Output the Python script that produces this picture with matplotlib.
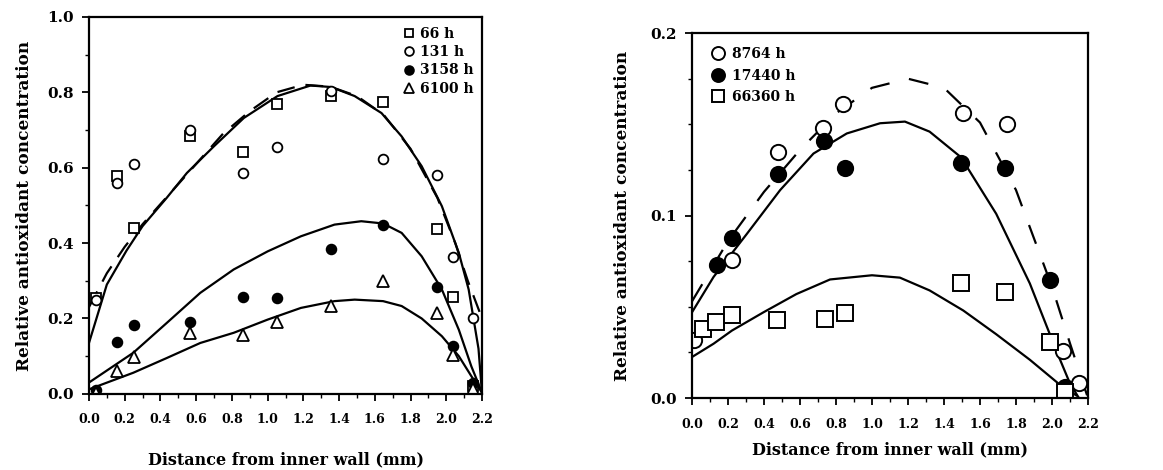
import matplotlib
matplotlib.use("Agg")
import matplotlib.pyplot as plt
from matplotlib.ticker import MultipleLocator

plt.rcParams['font.family'] = ['DejaVu Serif', 'Liberation Serif']
plt.rcParams['font.weight'] = 'bold'

# ---------------- Left panel data ----------------
x_left = [0.04, 0.155, 0.25, 0.567, 0.86, 1.055, 1.355, 1.646, 1.947, 2.04, 2.15]
y_66h = [0.255, 0.577, 0.44, 0.683, 0.642, 0.77, 0.79, 0.775, 0.438, 0.256, 0.02]
y_131h = [0.25, 0.56, 0.61, 0.70, 0.585, 0.655, 0.803, 0.623, 0.58, 0.363, 0.20]
y_3158h = [0.01, 0.138, 0.184, 0.19, 0.256, 0.253, 0.383, 0.449, 0.284, 0.126, 0.03]
y_6100h = [0.003, 0.06, 0.097, 0.162, 0.157, 0.19, 0.232, 0.30, 0.215, 0.104, 0.014]

fit66_x = [0.0, 0.1, 0.21, 0.30, 0.435, 0.548, 0.70, 0.867, 1.055, 1.24, 1.355, 1.487, 1.637, 1.75, 1.862, 1.975, 2.07, 2.125, 2.18, 2.2]
fit66_y = [0.135, 0.29, 0.38, 0.445, 0.52, 0.586, 0.657, 0.732, 0.79, 0.818, 0.814, 0.79, 0.745, 0.683, 0.604, 0.498, 0.374, 0.277, 0.12, 0.0]
fit131_x = [0.0, 0.1, 0.2, 0.3, 0.45, 0.6, 0.75, 0.9, 1.05, 1.2, 1.35, 1.5, 1.65, 1.8, 1.95, 2.05, 2.12, 2.2]
fit131_y = [0.23, 0.32, 0.39, 0.45, 0.53, 0.61, 0.69, 0.75, 0.80, 0.82, 0.815, 0.79, 0.74, 0.65, 0.52, 0.40, 0.30, 0.20]
fit3158_x = [0.0, 0.248, 0.435, 0.623, 0.81, 1.0, 1.186, 1.374, 1.524, 1.646, 1.75, 1.862, 1.975, 2.07, 2.14, 2.2]
fit3158_y = [0.03, 0.109, 0.188, 0.268, 0.33, 0.378, 0.418, 0.449, 0.458, 0.452, 0.427, 0.365, 0.277, 0.17, 0.073, 0.003]
fit6100_x = [0.0, 0.248, 0.435, 0.623, 0.81, 1.0, 1.186, 1.374, 1.487, 1.646, 1.75, 1.862, 1.975, 2.07, 2.14, 2.2]
fit6100_y = [0.012, 0.056, 0.095, 0.135, 0.162, 0.197, 0.228, 0.246, 0.25, 0.246, 0.233, 0.20, 0.153, 0.10, 0.047, 0.003]

# ---------------- Right panel data ----------------
x_8764 = [0.01, 0.222, 0.48, 0.727, 0.84, 1.503, 1.75, 2.06, 2.15]
y_8764 = [0.0317, 0.0756, 0.135, 0.148, 0.161, 0.156, 0.150, 0.026, 0.008]
x_17440 = [0.139, 0.222, 0.48, 0.736, 0.85, 1.494, 1.738, 1.987, 2.07]
y_17440 = [0.0728, 0.0878, 0.123, 0.141, 0.126, 0.129, 0.126, 0.0646, 0.006]
x_66360 = [0.059, 0.135, 0.222, 0.471, 0.74, 0.85, 1.494, 1.738, 1.987, 2.07]
y_66360 = [0.038, 0.0417, 0.0454, 0.0426, 0.0435, 0.0468, 0.0628, 0.0582, 0.0307, 0.0033]

fit8764_x = [0.0, 0.2, 0.4, 0.6, 0.8, 1.0, 1.2, 1.4, 1.6, 1.8, 2.0, 2.1, 2.2]
fit8764_y = [0.053, 0.086, 0.113, 0.136, 0.156, 0.170, 0.175, 0.170, 0.151, 0.114, 0.061, 0.030, 0.0]
fit17440_x = [0.0, 0.12, 0.305, 0.49, 0.675, 0.86, 1.045, 1.183, 1.32, 1.494, 1.69, 1.877, 2.024, 2.1, 2.15]
fit17440_y = [0.047, 0.0664, 0.090, 0.114, 0.134, 0.145, 0.1506, 0.1515, 0.146, 0.132, 0.101, 0.0628, 0.026, 0.008, 0.0]
fit66360_x = [0.0, 0.12, 0.222, 0.397, 0.58, 0.767, 1.0, 1.155, 1.32, 1.507, 1.69, 1.877, 2.06, 2.135]
fit66360_y = [0.0225, 0.0298, 0.037, 0.047, 0.057, 0.065, 0.0673, 0.066, 0.059, 0.048, 0.035, 0.021, 0.006, 0.0015]

xticks = [0.0, 0.2, 0.4, 0.6, 0.8, 1.0, 1.2, 1.4, 1.6, 1.8, 2.0, 2.2]

fig = plt.figure(figsize=(11.63, 4.70), dpi=100)
ax1 = fig.add_axes([0.0765, 0.162, 0.338, 0.802])
ax2 = fig.add_axes([0.595, 0.153, 0.3405, 0.7766])

lw = 1.6
# Left panel
ax1.plot(fit66_x, fit66_y, color='black', lw=lw)
ax1.plot(fit131_x, fit131_y, color='black', lw=lw, dashes=(8, 5))
ax1.plot(fit3158_x, fit3158_y, color='black', lw=lw)
ax1.plot(fit6100_x, fit6100_y, color='black', lw=lw)
ax1.plot(x_left, y_66h, ls='none', marker='s', ms=7, mfc='white', mec='black', mew=1.3, label='66 h')
ax1.plot(x_left, y_131h, ls='none', marker='o', ms=7, mfc='white', mec='black', mew=1.3, label='131 h')
ax1.plot(x_left, y_3158h, ls='none', marker='o', ms=7, mfc='black', mec='black', mew=1.3, label='3158 h')
ax1.plot(x_left, y_6100h, ls='none', marker='^', ms=8, mfc='white', mec='black', mew=1.3, label='6100 h')
ax1.set_xlim(0, 2.2)
ax1.set_ylim(0, 1.0)
ax1.set_xticks(xticks)
ax1.set_xticklabels([f"{t:.1f}" for t in xticks])
ax1.set_yticks([0.0, 0.2, 0.4, 0.6, 0.8, 1.0])
ax1.set_yticklabels(["0.0", "0.2", "0.4", "0.6", "0.8", "1.0"])
ax1.xaxis.set_minor_locator(MultipleLocator(0.1))
ax1.yaxis.set_minor_locator(MultipleLocator(0.1))
ax1.set_xlabel("Distance from inner wall (mm)", fontsize=11.5, fontweight='bold', labelpad=18)
ax1.set_ylabel("Relative antioxidant concentration", fontsize=12.2, fontweight='bold', labelpad=10)
ax1.legend(loc='upper right', bbox_to_anchor=(1.0, 0.995), frameon=False, fontsize=10, handlelength=0.8,
           handletextpad=0.4, labelspacing=0.3, borderaxespad=0.2, markerscale=0.9)

# Right panel
ax2.plot(fit8764_x, fit8764_y, color='black', lw=lw, dashes=(9, 9))
ax2.plot(fit17440_x, fit17440_y, color='black', lw=lw)
ax2.plot(fit66360_x, fit66360_y, color='black', lw=lw)
ax2.plot(x_8764, y_8764, ls='none', marker='o', ms=11, mfc='white', mec='black', mew=1.4, label='8764 h')
ax2.plot(x_17440, y_17440, ls='none', marker='o', ms=11, mfc='black', mec='black', mew=1.4, label='17440 h')
ax2.plot(x_66360, y_66360, ls='none', marker='s', ms=11, mfc='white', mec='black', mew=1.4, label='66360 h')
ax2.set_xlim(0, 2.2)
ax2.set_ylim(0, 0.2)
ax2.set_xticks(xticks)
ax2.set_xticklabels([f"{t:.1f}" for t in xticks])
ax2.set_yticks([0.0, 0.1, 0.2])
ax2.set_yticklabels(["0.0", "0.1", "0.2"])
ax2.xaxis.set_minor_locator(MultipleLocator(0.1))
ax2.yaxis.set_minor_locator(MultipleLocator(0.025))
ax2.set_xlabel("Distance from inner wall (mm)", fontsize=11.5, fontweight='bold', labelpad=8)
ax2.set_ylabel("Relative antioxidant concentration", fontsize=12.2, fontweight='bold', labelpad=14)
ax2.legend(loc='upper left', bbox_to_anchor=(0.03, 0.985), frameon=False, fontsize=10, handlelength=0.9,
           handletextpad=0.5, labelspacing=0.55, borderaxespad=0.2, markerscale=0.85)

for ax in (ax1, ax2):
    for s in ax.spines.values():
        s.set_linewidth(1.6)
    ax.tick_params(axis='both', which='major', direction='out', length=5, width=1.3)
    ax.tick_params(axis='both', which='minor', direction='out', length=3, width=1.0)
    ax.tick_params(axis='x', labelsize=9, pad=9)
    ax.tick_params(axis='y', labelsize=11, pad=6)
    for lab in ax.get_xticklabels() + ax.get_yticklabels():
        lab.set_fontweight('bold')

fig.savefig("out.png", dpi=100)
